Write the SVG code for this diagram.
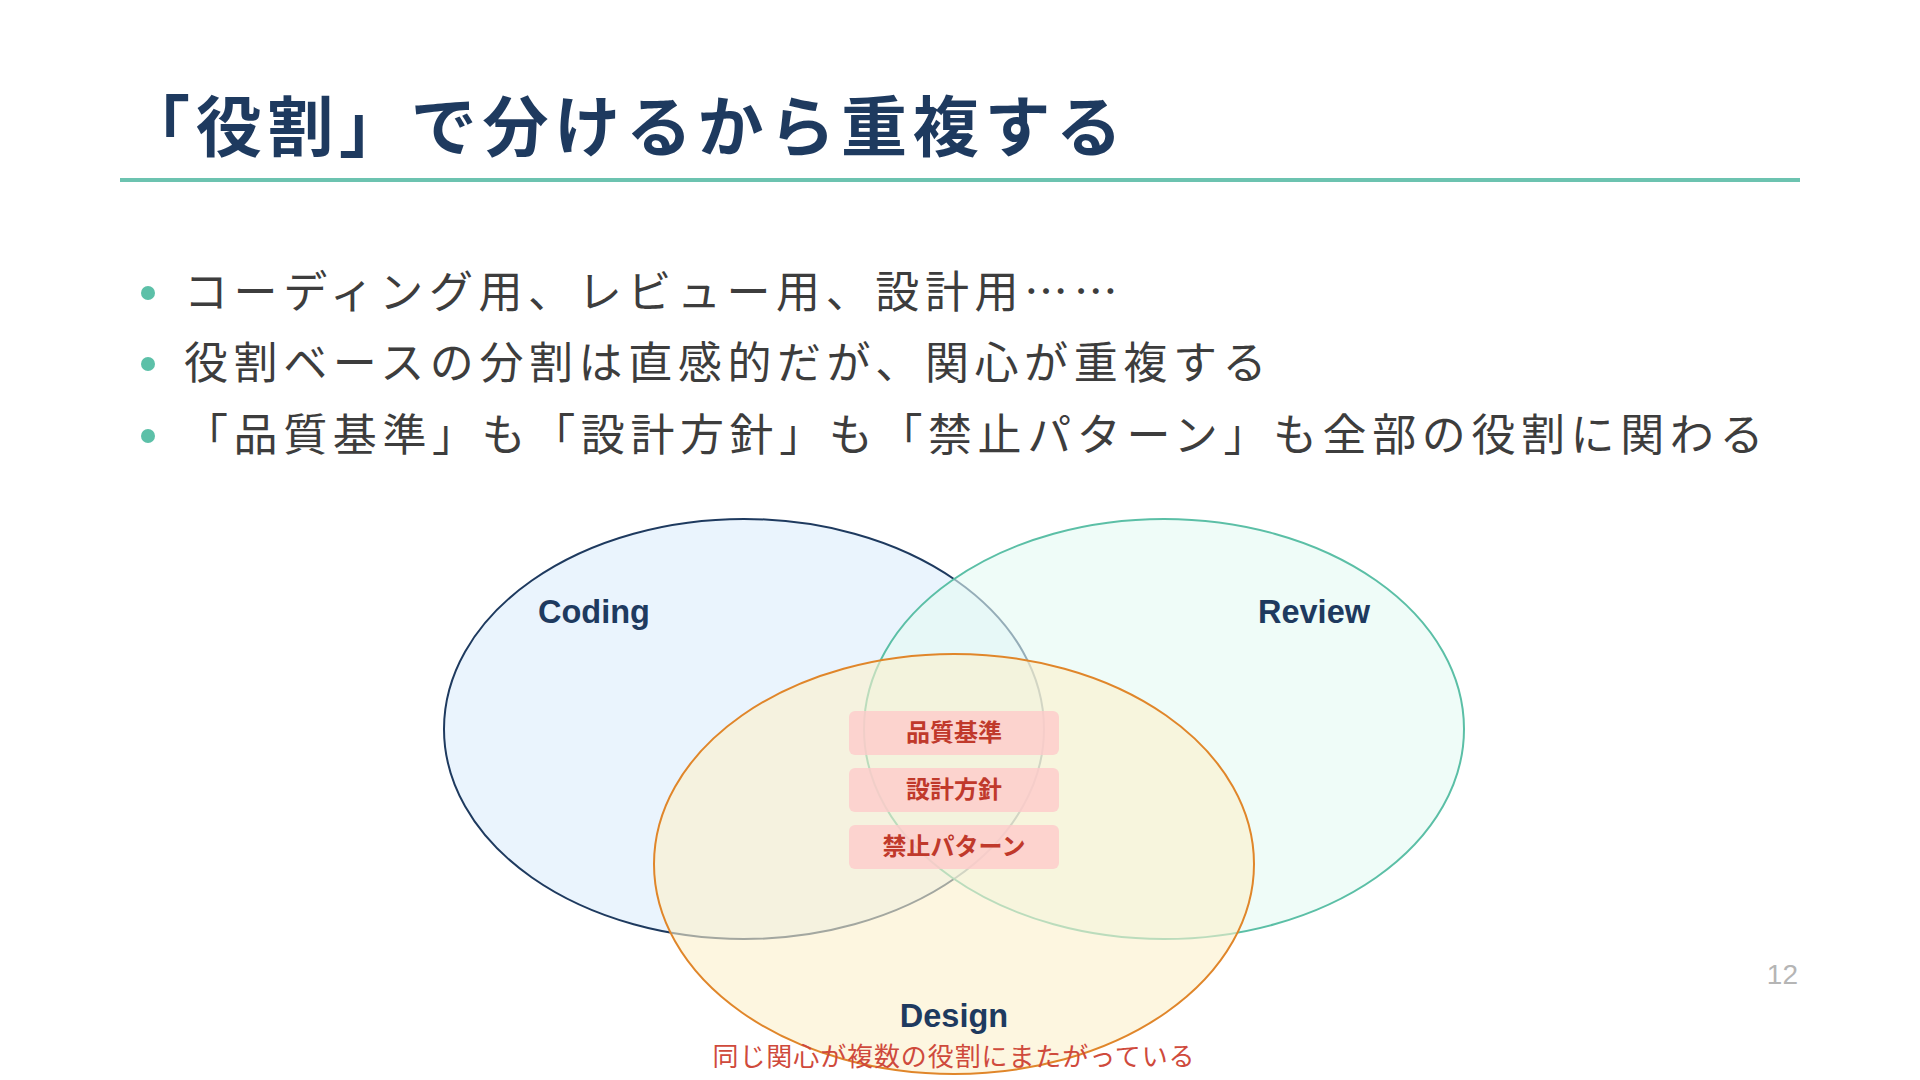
<svg xmlns="http://www.w3.org/2000/svg" width="1920" height="1080" viewBox="0 0 1920 1080">
<style>
.title{font-family:"Noto Sans CJK JP","Noto Sans",sans-serif;font-weight:700;font-size:66px;letter-spacing:5.7px;fill:#1e3a5f}
.bullet{font-family:"Noto Sans CJK JP","Noto Sans",sans-serif;font-size:44px;letter-spacing:5.6px;fill:#3d3d3d}
.dot{fill:#5cc0a8}
.set{stroke-width:2}
.setlabel{font-family:"Liberation Sans",Arial,sans-serif;font-weight:700;font-size:32.5px;fill:#1e3a5f;text-anchor:middle}
.box{fill:#fecaca;fill-opacity:0.8}
.boxtext{font-family:"Noto Sans CJK JP",sans-serif;font-weight:700;font-size:24px;fill:#c0392b;text-anchor:middle}
.caption{font-family:"Noto Sans CJK JP",sans-serif;font-size:26px;letter-spacing:0.9px;fill:#cf4a3c;text-anchor:middle}
.pageno{font-family:"Liberation Sans",Arial,sans-serif;font-size:28px;fill:#b5b5b5;text-anchor:end}
</style>
<rect width="1920" height="1080" fill="#ffffff"/>
<g id="title">
<text class="title" x="124" y="151">「役割」で分けるから重複する</text>
<rect x="120" y="178" width="1680" height="4" fill="#6cc3b0"/>
</g>
<g id="bullets">
<circle class="dot" cx="148" cy="293" r="7"/>
<text class="bullet" x="184" y="308">コーディング用、レビュー用、設計用……</text>
<circle class="dot" cx="148" cy="364" r="7"/>
<text class="bullet" x="184" y="379">役割ベースの分割は直感的だが、関心が重複する</text>
<circle class="dot" cx="148" cy="436" r="7"/>
<text class="bullet" x="184" y="451">「品質基準」も「設計方針」も「禁止パターン」も全部の役割に関わる</text>
</g>
<g id="coding">
<ellipse class="set" cx="744" cy="729" rx="300" ry="210" fill="#eaf4fd" stroke="#1e3a5f"/>
<text class="setlabel" x="594" y="623">Coding</text>
</g>
<g id="review">
<ellipse class="set" cx="1164" cy="729" rx="300" ry="210" fill="#e4faf3" fill-opacity="0.6" stroke="#5bbfa6"/>
<text class="setlabel" x="1314" y="623">Review</text>
</g>
<g id="design">
<ellipse class="set" cx="954" cy="864" rx="300" ry="210" fill="#fcf0cb" fill-opacity="0.6" stroke="#e0862a"/>
<text class="setlabel" x="954" y="1027">Design</text>
</g>
<g id="concept-quality">
<rect class="box" x="849" y="711" width="210" height="44" rx="6"/>
<text class="boxtext" x="954" y="741">品質基準</text>
</g>
<g id="concept-design-policy">
<rect class="box" x="849" y="768" width="210" height="44" rx="6"/>
<text class="boxtext" x="954" y="798">設計方針</text>
</g>
<g id="concept-forbidden">
<rect class="box" x="849" y="825" width="210" height="44" rx="6"/>
<text class="boxtext" x="954" y="855">禁止パターン</text>
</g>
<g id="caption">
<text class="caption" x="954" y="1066">同じ関心が複数の役割にまたがっている</text>
</g>
<text class="pageno" x="1798" y="984">12</text>
</svg>
